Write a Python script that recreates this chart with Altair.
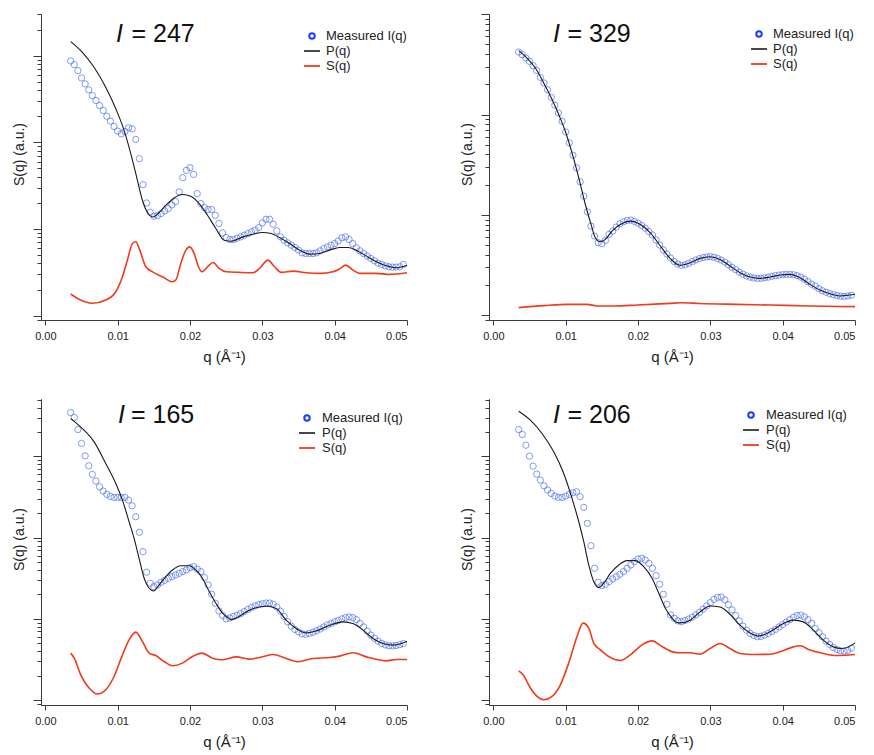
import math
import altair as alt
import numpy as np
import pandas as pd

# ---------------- data (q in 1/Å, intensities as log10 of arbitrary units) ----------------
Q_MEAS = [0.0035, 0.0040, 0.0045, 0.0050, 0.0055, 0.0060, 0.0065, 0.0070, 0.0075, 0.0080,
          0.0085, 0.0090, 0.0095, 0.0100, 0.0105, 0.0110, 0.0115, 0.0120, 0.0125, 0.0130,
          0.0135, 0.0140, 0.0145, 0.0150, 0.0155, 0.0160, 0.0165, 0.0170, 0.0175, 0.0180,
          0.0185, 0.0190, 0.0195, 0.0200, 0.0205, 0.0210, 0.0215, 0.0220, 0.0225, 0.0230,
          0.0235, 0.0240, 0.0245, 0.0250, 0.0255, 0.0260, 0.0265, 0.0270, 0.0275, 0.0280,
          0.0285, 0.0290, 0.0295, 0.0300, 0.0305, 0.0310, 0.0315, 0.0320, 0.0325, 0.0330,
          0.0335, 0.0340, 0.0345, 0.0350, 0.0355, 0.0360, 0.0365, 0.0370, 0.0375, 0.0380,
          0.0385, 0.0390, 0.0395, 0.0400, 0.0405, 0.0410, 0.0415, 0.0420, 0.0425, 0.0430,
          0.0435, 0.0440, 0.0445, 0.0450, 0.0455, 0.0460, 0.0465, 0.0470, 0.0475, 0.0480,
          0.0485, 0.0490, 0.0495]

# ---- I = 247 ----
MEAS_247 = [2.938, 2.896, 2.827, 2.743, 2.674, 2.605, 2.539, 2.482, 2.424, 2.367,
            2.301, 2.244, 2.183, 2.129, 2.098, 2.125, 2.167, 2.156, 2.033, 1.811,
            1.511, 1.300, 1.193, 1.147, 1.155, 1.178, 1.208, 1.235, 1.277, 1.316,
            1.427, 1.592, 1.676, 1.707, 1.630, 1.408, 1.293, 1.247, 1.224, 1.224,
            1.158, 1.063, 0.955, 0.901, 0.878, 0.878, 0.894, 0.909, 0.928, 0.947,
            0.967, 0.986, 1.016, 1.070, 1.112, 1.112, 1.055, 0.978, 0.909, 0.871,
            0.840, 0.813, 0.786, 0.756, 0.725, 0.717, 0.717, 0.717, 0.725, 0.748,
            0.775, 0.794, 0.813, 0.832, 0.863, 0.898, 0.909, 0.878, 0.832, 0.782,
            0.748, 0.717, 0.687, 0.660, 0.633, 0.606, 0.591, 0.575, 0.564, 0.560,
            0.560, 0.564, 0.591]
PQ_Q_247 = [0.00351, 0.00512, 0.00674, 0.00835, 0.00974, 0.01089, 0.01181, 0.01273, 0.01342, 0.01412,
            0.0149, 0.01573, 0.01666, 0.01781, 0.01896, 0.02012, 0.02127, 0.02242, 0.02357, 0.02473,
            0.0257, 0.0273, 0.0287, 0.03008, 0.03123, 0.03238, 0.03376, 0.03515, 0.03653, 0.03791,
            0.0393, 0.04068, 0.04184, 0.04299, 0.04438, 0.04576, 0.04714, 0.04853, 0.04968, 0.05]
PQ_247 = [3.161, 3.038, 2.865, 2.635, 2.387, 2.137, 1.869, 1.562, 1.331, 1.190,
          1.139, 1.190, 1.274, 1.358, 1.397, 1.377, 1.293, 1.159, 1.006, 0.870,
          0.858, 0.909, 0.940, 0.959, 0.948, 0.902, 0.833, 0.756, 0.710, 0.718,
          0.756, 0.787, 0.787, 0.756, 0.687, 0.621, 0.575, 0.552, 0.572, 0.580]
SQ_Q_247 = [0.00351, 0.00466, 0.00651, 0.00835, 0.00974, 0.01066, 0.01135, 0.01204, 0.0125, 0.01306,
            0.01389, 0.01481, 0.01619, 0.01757, 0.01804, 0.01873, 0.01942, 0.01997, 0.02057, 0.02117,
            0.02164, 0.02242, 0.0232, 0.02403, 0.025, 0.02685, 0.0287, 0.0296, 0.03077, 0.03169,
            0.03261, 0.03423, 0.03607, 0.03791, 0.03977, 0.04078, 0.04152, 0.04253, 0.04345, 0.04576,
            0.0476, 0.05]
SQ_247 = [0.250, 0.189, 0.143, 0.181, 0.276, 0.449, 0.641, 0.833, 0.852, 0.756,
          0.564, 0.506, 0.449, 0.391, 0.411, 0.603, 0.756, 0.794, 0.718, 0.564,
          0.506, 0.564, 0.614, 0.545, 0.506, 0.499, 0.495, 0.545, 0.641, 0.564,
          0.499, 0.514, 0.495, 0.488, 0.506, 0.545, 0.583, 0.526, 0.488, 0.488,
          0.476, 0.495]

# ---- I = 329 ----
MEAS_329 = [2.623, 2.597, 2.564, 2.530, 2.487, 2.438, 2.371, 2.315, 2.248, 2.172,
            2.093, 2.016, 1.933, 1.827, 1.718, 1.595, 1.469, 1.330, 1.187, 1.031,
            0.889, 0.789, 0.723, 0.713, 0.746, 0.806, 0.839, 0.879, 0.912, 0.932,
            0.945, 0.948, 0.935, 0.918, 0.895, 0.868, 0.835, 0.800, 0.750, 0.700,
            0.652, 0.610, 0.570, 0.535, 0.510, 0.498, 0.503, 0.518, 0.535, 0.551,
            0.565, 0.575, 0.582, 0.584, 0.578, 0.566, 0.550, 0.530, 0.505, 0.478,
            0.455, 0.430, 0.410, 0.393, 0.380, 0.372, 0.368, 0.369, 0.374, 0.380,
            0.388, 0.395, 0.401, 0.405, 0.407, 0.408, 0.404, 0.395, 0.380, 0.360,
            0.335, 0.310, 0.290, 0.265, 0.245, 0.230, 0.216, 0.205, 0.197, 0.190,
            0.188, 0.193, 0.200]
PQ_Q_329 = [0.00351, 0.00466, 0.00581, 0.00697, 0.00812, 0.00904, 0.00995, 0.01088, 0.01181, 0.01272,
            0.01351, 0.0141, 0.01479, 0.01548, 0.01641, 0.01756, 0.01894, 0.02032, 0.02171, 0.02309,
            0.02443, 0.02581, 0.0272, 0.02858, 0.02996, 0.03134, 0.03272, 0.0341, 0.03549, 0.03687,
            0.03825, 0.03963, 0.04101, 0.0424, 0.04378, 0.04516, 0.04654, 0.04792, 0.0493, 0.05]
PQ_329 = [2.637, 2.563, 2.464, 2.314, 2.149, 2.000, 1.834, 1.618, 1.369, 1.104,
          0.905, 0.772, 0.732, 0.756, 0.839, 0.905, 0.938, 0.905, 0.822, 0.690,
          0.567, 0.498, 0.523, 0.567, 0.583, 0.557, 0.491, 0.424, 0.381, 0.368,
          0.381, 0.401, 0.408, 0.374, 0.308, 0.252, 0.215, 0.192, 0.202, 0.209]
SQ_Q_329 = [0.00351, 0.00697, 0.01019, 0.01295, 0.01433, 0.01664, 0.01987, 0.02443, 0.026, 0.0285,
            0.0336, 0.0382, 0.0438, 0.05]
SQ_329 = [0.076, 0.096, 0.109, 0.109, 0.093, 0.093, 0.102, 0.119, 0.125, 0.118,
          0.109, 0.102, 0.093, 0.086]

# ---- I = 165 ----
MEAS_165 = [3.541, 3.480, 3.332, 3.160, 3.008, 2.885, 2.779, 2.697, 2.627, 2.574,
            2.533, 2.508, 2.496, 2.496, 2.496, 2.496, 2.463, 2.393, 2.258, 2.066,
            1.828, 1.574, 1.439, 1.397, 1.418, 1.451, 1.475, 1.500, 1.520, 1.541,
            1.561, 1.582, 1.602, 1.631, 1.643, 1.614, 1.582, 1.508, 1.418, 1.303,
            1.193, 1.098, 1.041, 1.000, 1.010, 1.030, 1.045, 1.065, 1.090, 1.115,
            1.140, 1.160, 1.175, 1.185, 1.195, 1.195, 1.180, 1.145, 1.095, 1.030,
            0.965, 0.910, 0.870, 0.840, 0.815, 0.810, 0.820, 0.835, 0.855, 0.875,
            0.900, 0.925, 0.945, 0.963, 0.980, 1.000, 1.016, 1.024, 1.015, 0.990,
            0.945, 0.900, 0.850, 0.800, 0.760, 0.725, 0.698, 0.680, 0.668, 0.668,
            0.672, 0.682, 0.696]
PQ_Q_165 = [0.00351, 0.00512, 0.00674, 0.00835, 0.00974, 0.01066, 0.01158, 0.01227, 0.01296, 0.01366,
            0.01435, 0.01495, 0.01573, 0.01666, 0.01758, 0.01873, 0.01988, 0.02081, 0.02173, 0.02265,
            0.02357, 0.0245, 0.02519, 0.0257, 0.027, 0.0282, 0.03054, 0.03192, 0.0333, 0.03469,
            0.03607, 0.03745, 0.0393, 0.04115, 0.04253, 0.04392, 0.0453, 0.04669, 0.04807, 0.04922,
            0.05]
PQ_165 = [3.467, 3.344, 3.180, 2.914, 2.668, 2.463, 2.196, 1.992, 1.746, 1.500,
          1.377, 1.344, 1.418, 1.520, 1.602, 1.655, 1.655, 1.602, 1.500, 1.336,
          1.193, 1.070, 1.016, 0.991, 1.040, 1.107, 1.156, 1.127, 0.984, 0.881,
          0.827, 0.852, 0.922, 0.963, 0.942, 0.861, 0.758, 0.696, 0.676, 0.696,
          0.725]
SQ_Q_165 = [0.00351, 0.004, 0.00489, 0.00605, 0.0072, 0.00835, 0.0095, 0.01066, 0.01158, 0.0125,
            0.01342, 0.01435, 0.01527, 0.01642, 0.01758, 0.01896, 0.02034, 0.02164, 0.02311, 0.0245,
            0.0264, 0.0282, 0.0296, 0.03146, 0.0333, 0.03492, 0.037, 0.0393, 0.04068, 0.04253,
            0.04438, 0.04714, 0.04853, 0.05]
SQ_165 = [0.578, 0.516, 0.311, 0.148, 0.074, 0.127, 0.290, 0.557, 0.741, 0.836,
          0.721, 0.578, 0.548, 0.475, 0.422, 0.455, 0.536, 0.578, 0.516, 0.496,
          0.532, 0.504, 0.524, 0.561, 0.512, 0.471, 0.512, 0.524, 0.541, 0.582,
          0.532, 0.483, 0.500, 0.500]

# ---- I = 206 ----
MEAS_206 = [3.332, 3.271, 3.139, 3.004, 2.881, 2.783, 2.709, 2.639, 2.586, 2.545,
            2.512, 2.496, 2.496, 2.512, 2.533, 2.553, 2.565, 2.504, 2.373, 2.176,
            1.901, 1.623, 1.451, 1.409, 1.426, 1.459, 1.492, 1.520, 1.549, 1.582,
            1.623, 1.664, 1.705, 1.737, 1.746, 1.725, 1.684, 1.623, 1.532, 1.426,
            1.303, 1.180, 1.049, 1.008, 0.975, 0.965, 0.980, 0.998, 1.020, 1.050,
            1.080, 1.120, 1.160, 1.200, 1.240, 1.265, 1.268, 1.235, 1.175, 1.110,
            1.040, 0.975, 0.910, 0.860, 0.820, 0.795, 0.780, 0.785, 0.800, 0.820,
            0.845, 0.870, 0.900, 0.930, 0.960, 0.990, 1.020, 1.040, 1.045, 1.025,
            0.990, 0.945, 0.880, 0.830, 0.780, 0.725, 0.685, 0.648, 0.622, 0.606,
            0.602, 0.612, 0.640]
PQ_Q_206 = [0.00351, 0.00512, 0.00673, 0.00835, 0.00973, 0.01088, 0.01181, 0.0125, 0.01319, 0.01388,
            0.01457, 0.01526, 0.01618, 0.01734, 0.01848, 0.01963, 0.02079, 0.02194, 0.02287, 0.02378,
            0.02471, 0.0254, 0.02581, 0.0272, 0.02858, 0.02996, 0.03134, 0.03272, 0.0341, 0.03549,
            0.03664, 0.03825, 0.0401, 0.04148, 0.04286, 0.04424, 0.04562, 0.047, 0.04817, 0.04932,
            0.05]
PQ_206 = [3.557, 3.447, 3.283, 3.057, 2.791, 2.484, 2.196, 1.950, 1.664, 1.459,
          1.385, 1.439, 1.561, 1.664, 1.717, 1.717, 1.643, 1.500, 1.316, 1.131,
          1.008, 0.955, 0.950, 0.984, 1.086, 1.159, 1.147, 1.057, 0.922, 0.827,
          0.787, 0.840, 0.942, 0.984, 0.963, 0.861, 0.738, 0.655, 0.635, 0.664,
          0.705]
SQ_Q_206 = [0.00351, 0.00411, 0.00512, 0.00604, 0.00696, 0.00812, 0.00927, 0.01042, 0.01157, 0.0124,
            0.01319, 0.01388, 0.0148, 0.01595, 0.01756, 0.01894, 0.02056, 0.02194, 0.02332, 0.02494,
            0.02581, 0.0272, 0.02858, 0.02996, 0.03134, 0.03272, 0.0341, 0.03595, 0.03825, 0.03963,
            0.04148, 0.0424, 0.04378, 0.04562, 0.04747, 0.05]
SQ_206 = [0.360, 0.311, 0.148, 0.045, 0.004, 0.045, 0.188, 0.455, 0.782, 0.947,
          0.885, 0.701, 0.618, 0.536, 0.487, 0.557, 0.680, 0.729, 0.659, 0.590,
          0.582, 0.582, 0.565, 0.634, 0.696, 0.634, 0.573, 0.561, 0.565, 0.594,
          0.655, 0.668, 0.615, 0.573, 0.548, 0.561]

X_TICKS = [0.0, 0.01, 0.02, 0.03, 0.04, 0.05]
LEGEND_LABELS = ["Measured I(q)", "P(q)", "S(q)"]

# ---------------- styling ----------------
FONT = "Liberation Sans"
BLUE_PT = "#4a6ff2"
BLUE_LEG = "#1e3cff"
RED = "#f23a1c"
BLACK = "#1a1a1a"
AXIS_C = "#3a3a3a"
W, H = 366, 306

PANELS = [
    dict(num="247", meas=MEAS_247, pq_q=PQ_Q_247, pq=PQ_247, sq_q=SQ_Q_247, sq=SQ_247,
         ylog=(-0.05, 3.48), ti=(75, 90.5, 28), leg=(271, 22, 263, 279, 285, 15)),
    dict(num="329", meas=MEAS_329, pq_q=PQ_Q_329, pq=PQ_329, sq_q=SQ_Q_329, sq=SQ_329,
         ylog=(-0.047, 3.002), ti=(64, 78.5, 28), leg=(270, 20, 262, 278, 284, 15)),
    dict(num="165", meas=MEAS_165, pq_q=PQ_Q_165, pq=PQ_165, sq_q=SQ_Q_165, sq=SQ_165,
         ylog=(-0.061, 3.708), ti=(77, 90, 23.5), leg=(266, 19, 258, 274, 281, 15)),
    dict(num="206", meas=MEAS_206, pq_q=PQ_Q_206, pq=PQ_206, sq_q=SQ_Q_206, sq=SQ_206,
         ylog=(-0.061, 3.708), ti=(64, 78.5, 23.5), leg=(262, 16, 254, 270, 277, 15)),
]


def log_ticks(lo, hi):
    vals = []
    for k in range(math.floor(lo), math.ceil(hi) + 1):
        for m in range(1, 10):
            v = m * 10.0 ** k
            if lo - 1e-9 <= math.log10(v) <= hi + 1e-9:
                vals.append(v)
    return vals


def one(label):
    return pd.DataFrame({"label": [label]})


def panel(p):
    lo, hi = p["ylog"]
    ticks = log_ticks(lo, hi)
    major = [v for v in ticks if abs(math.log10(v) - round(math.log10(v))) < 1e-9]
    minor = [v for v in ticks if v not in major]

    yscale = alt.Scale(type="log", domain=[10 ** lo, 10 ** hi], nice=False)
    xscale = alt.Scale(domain=[-0.0006, 0.05], nice=False, zero=False)
    xaxis = alt.Axis(values=X_TICKS, format=".2f", title="q (Å⁻¹)", tickSize=5,
                     labelPadding=5, titlePadding=8, grid=False, domainColor=AXIS_C,
                     tickColor=AXIS_C, labelColor="#222", titleColor="#222",
                     labelFontSize=11, titleFontSize=15, titleFontWeight="normal",
                     labelFont=FONT, titleFont=FONT)
    major_axis = alt.Axis(values=major, labels=False, tickSize=8, grid=False,
                          domainColor=AXIS_C, tickColor=AXIS_C, orient="left",
                          title="S(q) (a.u.)", titleFontSize=14, titleFontWeight="normal",
                          titleFont=FONT, titleColor="#222", titlePadding=6, titleY=140)
    minor_axis = alt.Axis(values=minor, labels=False, tickSize=4, grid=False,
                          domainColor=AXIS_C, tickColor=AXIS_C, orient="left", title=None)

    x = alt.X("q:Q", scale=xscale, axis=xaxis)

    dm = pd.DataFrame({"q": Q_MEAS, "v": 10 ** np.array(p["meas"])})
    dp = pd.DataFrame({"q": p["pq_q"], "v": 10 ** np.array(p["pq"])})
    ds = pd.DataFrame({"q": p["sq_q"], "v": 10 ** np.array(p["sq"])})

    pts = alt.Chart(dm).mark_point(shape="circle", filled=False, size=40, strokeWidth=1,
                                   color=BLUE_PT, opacity=0.7).encode(
        x=x, y=alt.Y("v:Q", scale=yscale, axis=major_axis))
    pline = alt.Chart(dp).mark_line(color=BLACK, strokeWidth=1.1, interpolate="monotone").encode(
        x=x, y=alt.Y("v:Q", scale=yscale, axis=None))
    sline = alt.Chart(ds).mark_line(color=RED, strokeWidth=1.6, interpolate="monotone").encode(
        x=x, y=alt.Y("v:Q", scale=yscale, axis=minor_axis))

    tx_i, tx_rest, ty = p["ti"]
    t_i = alt.Chart(one("I")).mark_text(align="left", baseline="alphabetic", font=FONT,
                                        fontSize=25, fontStyle="italic", color="#111").encode(
        x=alt.value(tx_i), y=alt.value(ty), text="label:N")
    t_rest = alt.Chart(one("= " + p["num"])).mark_text(align="left", baseline="alphabetic",
                                                       font=FONT, fontSize=25, color="#111").encode(
        x=alt.value(tx_rest), y=alt.value(ty), text="label:N")

    cx, cy, lx1, lx2, tx, dy = p["leg"]
    leg_pt = alt.Chart(one("m")).mark_point(shape="circle", filled=False, size=30,
                                            strokeWidth=2, color=BLUE_LEG, opacity=1).encode(
        x=alt.value(cx), y=alt.value(cy))
    leg_p = alt.Chart(one("p")).mark_rule(color=BLACK, strokeWidth=1.6).encode(
        x=alt.value(lx1), x2=alt.value(lx2), y=alt.value(cy + dy))
    leg_s = alt.Chart(one("s")).mark_rule(color=RED, strokeWidth=1.8).encode(
        x=alt.value(lx1), x2=alt.value(lx2), y=alt.value(cy + 2 * dy))
    texts = []
    for k, lab in enumerate(LEGEND_LABELS):
        texts.append(alt.Chart(one(lab)).mark_text(align="left", baseline="middle", font=FONT,
                                                   fontSize=13, color="#222").encode(
            x=alt.value(tx), y=alt.value(cy + k * dy), text="label:N"))

    return alt.layer(pts, pline, sline, t_i, t_rest, leg_pt, leg_p, leg_s, *texts).resolve_axis(
        y="independent").properties(width=W, height=H)


charts = [panel(p) for p in PANELS]
row1 = alt.hconcat(charts[0], charts[1], spacing=49)
row2 = alt.hconcat(charts[2], charts[3], spacing=49)
chart = alt.vconcat(row1, row2, spacing=35).properties(
    padding={"left": 12, "top": 13, "right": 5, "bottom": 5},
    background="white",
).configure_view(stroke=None)

chart.save("out.html", embed_options={"renderer": "svg", "actions": False})
